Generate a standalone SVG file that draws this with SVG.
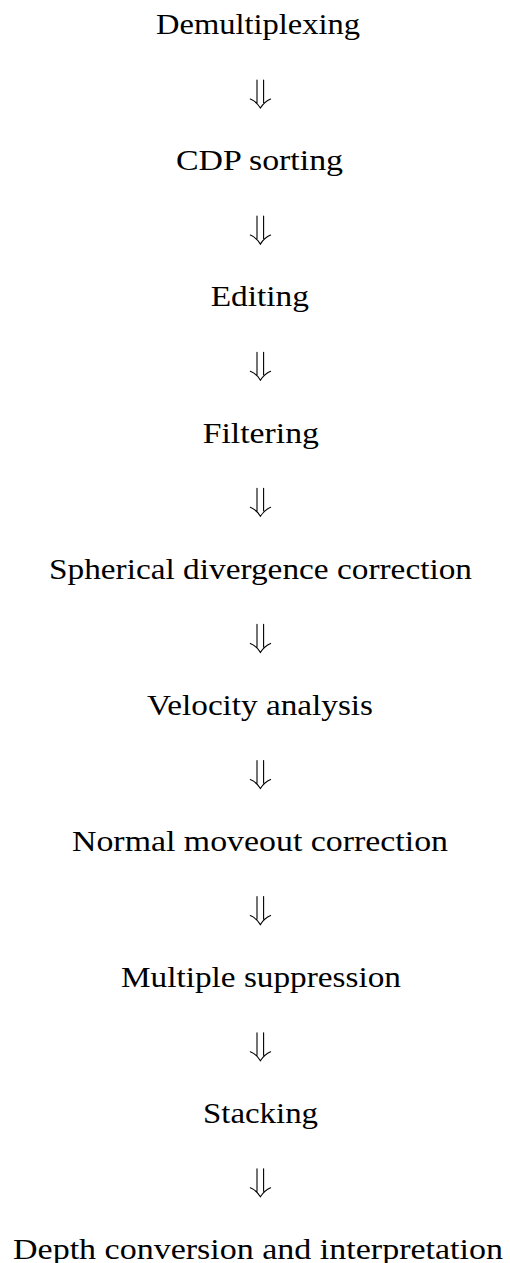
<svg xmlns="http://www.w3.org/2000/svg" width="510" height="1263" viewBox="0 0 510 1263">
<style>
.t{font-family:"Liberation Serif","DejaVu Serif",serif;font-size:29px;fill:#000}
.a{fill:none;stroke:#000;stroke-width:1.1;stroke-linecap:round}
</style>
<defs>
<g id="dbl">
<path class="a" d="M257,80 V102.5 M263.6,80 V102.5 M250.3,99 Q256.5,101.5 260.4,108 Q264.5,101.5 270.6,99"/>
</g>
</defs>
<rect width="510" height="1263" fill="#fff"/>
<g id="connectors">
<use href="#dbl" y="0"/>
<use href="#dbl" y="136.1"/>
<use href="#dbl" y="272.2"/>
<use href="#dbl" y="408.3"/>
<use href="#dbl" y="544.4"/>
<use href="#dbl" y="680.5"/>
<use href="#dbl" y="816.6"/>
<use href="#dbl" y="952.7"/>
<use href="#dbl" y="1088.8"/>
</g>
<g id="n1"><text class="t" x="156" y="34.2" textLength="204" lengthAdjust="spacingAndGlyphs">Demultiplexing</text></g>
<g id="n2"><text class="t" x="176" y="170.3" textLength="167" lengthAdjust="spacingAndGlyphs">CDP sorting</text></g>
<g id="n3"><text class="t" x="210.7" y="306.4" textLength="98.3" lengthAdjust="spacingAndGlyphs">Editing</text></g>
<g id="n4"><text class="t" x="202.7" y="442.5" textLength="116.3" lengthAdjust="spacingAndGlyphs">Filtering</text></g>
<g id="n5"><text class="t" x="49" y="578.6" textLength="423" lengthAdjust="spacingAndGlyphs">Spherical divergence correction</text></g>
<g id="n6"><text class="t" x="147" y="714.7" textLength="226" lengthAdjust="spacingAndGlyphs">Velocity analysis</text></g>
<g id="n7"><text class="t" x="72" y="850.8" textLength="376" lengthAdjust="spacingAndGlyphs">Normal moveout correction</text></g>
<g id="n8"><text class="t" x="121" y="986.9" textLength="280" lengthAdjust="spacingAndGlyphs">Multiple suppression</text></g>
<g id="n9"><text class="t" x="203" y="1123" textLength="115" lengthAdjust="spacingAndGlyphs">Stacking</text></g>
<g id="n10"><text class="t" x="13" y="1259.1" textLength="490" lengthAdjust="spacingAndGlyphs">Depth conversion and interpretation</text></g>
</svg>
